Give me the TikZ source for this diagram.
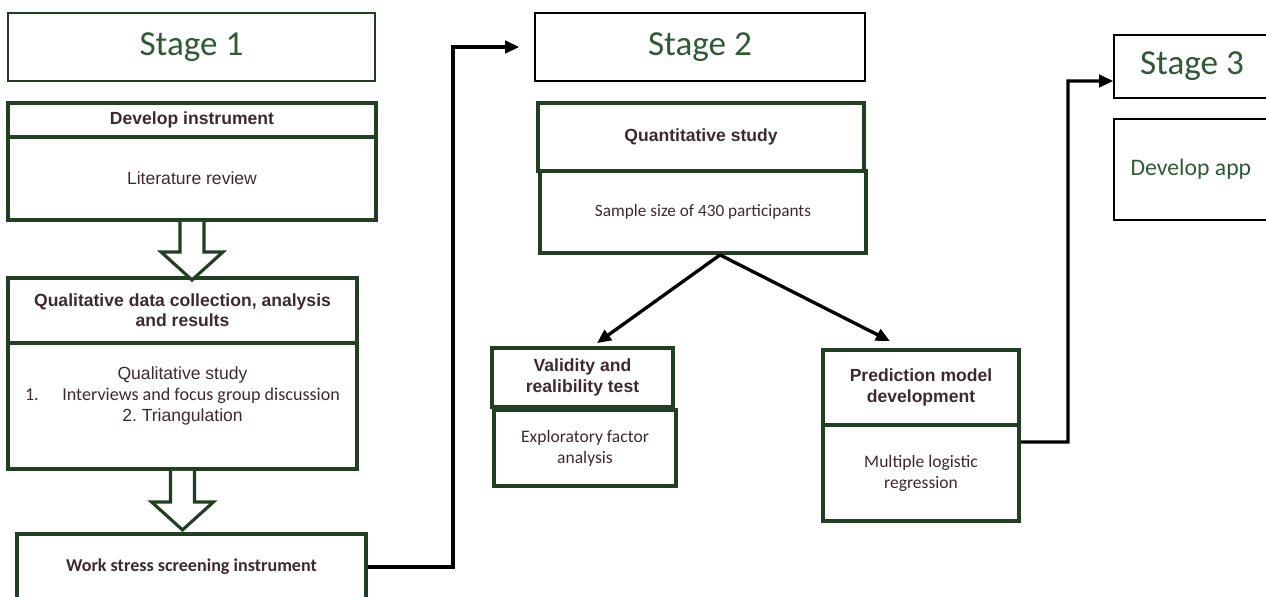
\documentclass[tikz,border=0pt]{standalone}
\usepackage{fontspec}
\setmainfont{Liberation Sans}
\newfontfamily\calib{Carlito}
\usetikzlibrary{arrows.meta}
\definecolor{boxgreen}{HTML}{213F21}
\definecolor{stagegreen}{HTML}{2E5B34}
\definecolor{txtbrown}{HTML}{3C2A32}

\begin{document}
\begin{tikzpicture}[x=0.02cm,y=-0.02cm,
	stagebox/.style={draw=#1,line width=0.9pt,text=stagegreen,inner sep=0pt,font=\calib\fontsize{20}{24}\selectfont},
	thickbox/.style={draw=boxgreen,line width=2.2pt,text=txtbrown,align=center,inner sep=0pt,font=\fontsize{10}{11.5}\selectfont},
	hollow/.style={draw=boxgreen,line width=1.8pt,fill=white,line join=miter},
	conn/.style={line width=1.9pt,-{Triangle[length=8pt,width=7pt]}}]
				\useasboundingbox (0,0) rectangle (1266,596);
				\node[stagebox=boxgreen,minimum width=7.34cm,minimum height=1.36cm] (s1) at (191.5,47) {Stage 1};
				\node[thickbox,minimum width=7.36cm,minimum height=0.68cm] (dt) at (192,120) {\bfseries Develop instrument};
				\node[thickbox,minimum width=7.36cm,minimum height=1.66cm] (db) at (192,178.5) {Literature review};
				\node[thickbox,minimum width=6.98cm,minimum height=1.3cm] (qt) at (182.5,310.5) {\bfseries Qualitative data collection, analysis\\ \bfseries and results};
				\node[thickbox,minimum width=6.98cm,minimum height=2.52cm] (qb) at (182.5,406) {};
				\node[text=txtbrown,align=center,inner sep=0pt,font=\fontsize{10}{12}\selectfont] (qbt) at (182.5,396) {Qualitative study\\ {\calib\fontsize{10.3}{12}\selectfont 1.\hspace{1.3em}Interviews and focus group discussion}\\ 2.\ Triangulation};
				\node[thickbox,minimum width=6.98cm,minimum height=1.32cm,font=\calib\bfseries\fontsize{10.3}{12}\selectfont] (ws) at (191.5,567) {Work stress screening instrument};
				\draw[hollow] ([xshift=-0.24cm]db.south) -- ++(0,30) -- ++(-19,0) -- ++(31,28) -- ++(31,-28) -- ++(-19,0) -- ++(0,-30);
				\draw[hollow] ([xshift=-0.24cm]qb.south) -- ++(0,31) -- ++(-19,0) -- ++(31,28) -- ++(31,-28) -- ++(-19,0) -- ++(0,-31);

				\node[stagebox=black,minimum width=6.6cm,minimum height=1.36cm] (s2) at (700,47) {Stage 2};
				\node[thickbox,minimum width=6.52cm,minimum height=1.36cm] (nt) at (701,137) {\bfseries Quantitative study};
				\node[thickbox,minimum width=6.52cm,minimum height=1.64cm,font=\calib\fontsize{9.8}{12}\selectfont] (nb) at (703,212) {Sample size of 430 participants};
				\node[thickbox,minimum width=3.62cm,minimum height=1.18cm] (vt) at (582.5,377.5) {\bfseries Validity and\\ \bfseries realibility test};
				\node[thickbox,minimum width=3.64cm,minimum height=1.52cm,font=\calib\fontsize{10}{12}\selectfont] (vb) at (585,448) {Exploratory factor\\ analysis};
				\node[thickbox,minimum width=3.92cm,minimum height=1.5cm] (pt) at (921,387.5) {\bfseries Prediction model\\ \bfseries development};
				\node[thickbox,minimum width=3.92cm,minimum height=1.92cm,font=\calib\fontsize{10}{12}\selectfont] (pb) at (921,473) {Multiple logistic\\ regression};

				\node[stagebox=black,minimum width=3.12cm,minimum height=1.26cm] (s3) at (1192,66.5) {Stage 3};
				\node[draw,line width=0.9pt,minimum width=3.12cm,minimum height=2.02cm] (app) at (1192,169.5) {};
				\node[anchor=west,inner sep=0pt,text=stagegreen,font=\calib\fontsize{13.5}{16}\selectfont] (apptxt) at ([xshift=0.34cm]app.west) {Develop app};

				\draw[conn] (ws.east) -- (453,567) |- ([xshift=-0.3cm]s2.west);
				\draw[conn] ([xshift=0.34cm]nb.south) -- ([xshift=0.29cm,yshift=0.06cm]vt.north);
				\draw[conn] ([xshift=0.34cm]nb.south) -- ([xshift=-0.62cm,yshift=0.14cm]pt.north);
				\draw[conn] ([yshift=0.62cm]pb.east) -- (1068,442) |- ([yshift=-0.29cm]s3.west);
			\end{tikzpicture}
\end{document}
